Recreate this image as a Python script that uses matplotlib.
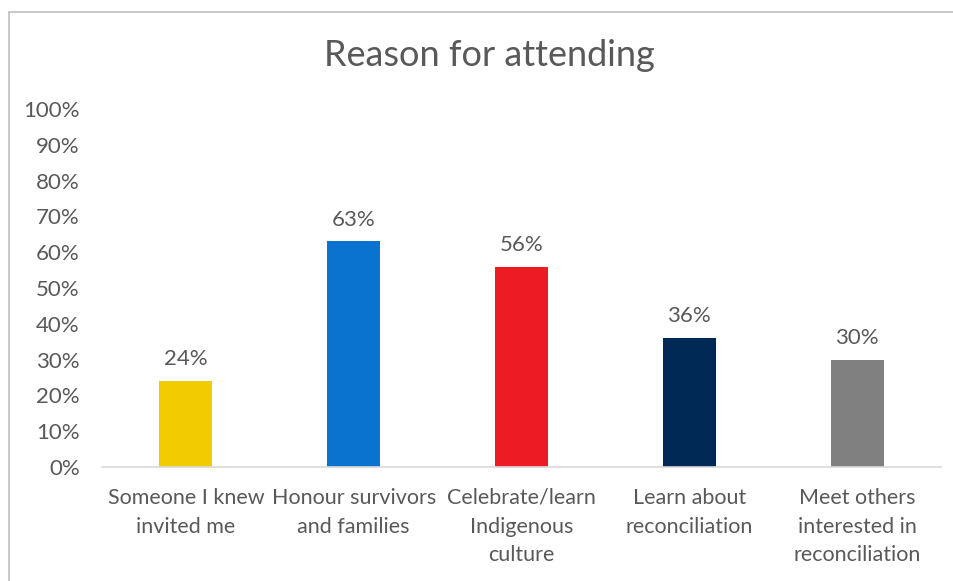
import matplotlib.pyplot as plt
from matplotlib.patches import Rectangle
from matplotlib.ticker import FuncFormatter

categories = ["Someone I knew\ninvited me", "Honour survivors\nand families",
              "Celebrate/learn\nIndigenous\nculture", "Learn about\nreconciliation",
              "Meet others\ninterested in\nreconciliation"]
values = [24, 63, 56, 36, 30]
colors = ["#F2CC00", "#0A72CF", "#ED1C24", "#002855", "#808080"]

txt = "#595959"
plt.rcParams['font.family'] = ['Lato', 'DejaVu Sans']

fig = plt.figure(figsize=(9.54, 5.81), dpi=100)
ax = fig.add_axes([0.1069, 0.1962, 0.8795, 0.6162])

x = range(len(values))
bars = ax.bar(x, values, width=0.316, color=colors)
for b, v in zip(bars, values):
    ax.annotate(f"{v}%", (b.get_x() + b.get_width() / 2, v), xytext=(0, 8.5),
                textcoords="offset points", ha="center", va="bottom",
                fontsize=16, color=txt)

ax.set_xlim(-0.5, len(values) - 0.5)
ax.set_ylim(0, 100)
ax.set_yticks(range(0, 101, 10))
ax.yaxis.set_major_formatter(FuncFormatter(lambda v, p: f"{int(v)}%"))
ax.set_xticks(list(x))
ax.set_xticklabels(categories, fontsize=15.5, color=txt, linespacing=1.55)
ax.tick_params(axis="y", labelsize=16, labelcolor=txt, length=0, pad=16)
ax.tick_params(axis="x", length=0, pad=15)
for s in ["top", "right", "left"]:
    ax.spines[s].set_visible(False)
ax.spines["bottom"].set_color("#D9D9D9")
ax.spines["bottom"].set_linewidth(1.2)

fig.text(0.513, 0.905, "Reason for attending", ha="center", va="center",
         fontsize=26, color=txt)

# chart border (cut off at right and bottom)
fig.patches.append(Rectangle((9 / 954, -0.05), 1.1, 1 - 12 / 581 + 0.05,
                             transform=fig.transFigure, fill=False,
                             edgecolor="#BFBFBF", linewidth=1.2))

fig.savefig("out.png", dpi=100)
